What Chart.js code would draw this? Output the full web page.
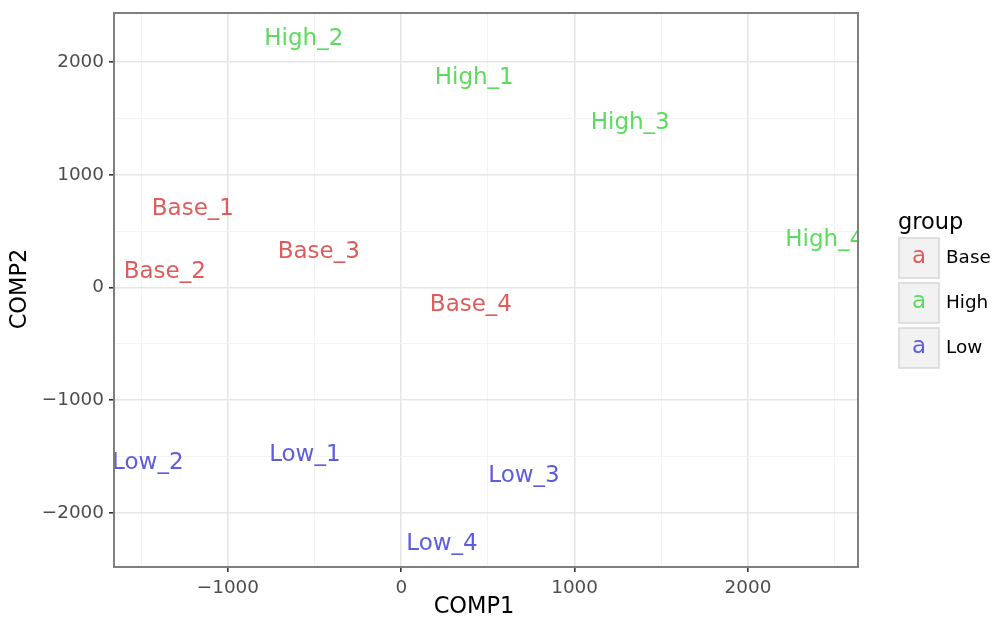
<!DOCTYPE html>
<html>
<head>
<meta charset="utf-8">
<script src="https://cdn.jsdelivr.net/npm/chart.js@4.4.1/dist/chart.umd.min.js"></script>
<style>
  html, body { margin: 0; padding: 0; background: #fff; }
  #wrap { width: 992px; height: 626px; position: relative; }
</style>
</head>
<body>
<div id="wrap"><canvas id="pca"></canvas></div>
<script>
// sample names and scores
const groups = ["Base", "High", "Low"];
const groupColors = ["#DE5C5C", "#5CDC5C", "#5C5CDE"];

const baseNames = ["Base_1", "Base_2", "Base_3", "Base_4"];
const baseComp1 = [-1202, -1364, -476, 402];
const baseComp2 = [714, 155, 333, -137];

const highNames = ["High_1", "High_2", "High_3", "High_4"];
const highComp1 = [421, -562, 1321, 2443];
const highComp2 = [1876, 2222, 1476, 439];

const lowNames = ["Low_1", "Low_2", "Low_3", "Low_4"];
const lowComp1 = [-556, -1462, 708, 235];
const lowComp2 = [-1468, -1539, -1654, -2257];

const xMajorTicks = [-1000, 0, 1000, 2000];
const xMinorTicks = [-1500, -500, 500, 1500, 2500];
const yMajorTicks = [-2000, -1000, 0, 1000, 2000];
const yMinorTicks = [-1500, -500, 500, 1500];

const FONT = "'DejaVu Sans', sans-serif";

function points(xs, ys, names) {
    return xs.map((x, i) => ({ x: x, y: ys[i], name: names[i] }));
}

function fmt(v) {
    return v < 0 ? "\u2212" + Math.abs(v) : String(v);
}

function gridOpts(major) {
    return {
        color: ctx => major.includes(ctx.tick && ctx.tick.value) ? "#e6e6e6" : "#f3f3f3",
        lineWidth: ctx => major.includes(ctx.tick && ctx.tick.value) ? 1.6 : 1,
        tickColor: ctx => major.includes(ctx.tick && ctx.tick.value) ? "#333333" : "rgba(0,0,0,0)",
        tickLength: 5,
        tickWidth: 1.6,
        drawTicks: true
    };
}

// text labels drawn at each point instead of markers
const textLabels = {
    id: "textLabels",
    afterDatasetsDraw(chart) {
        const { ctx, chartArea } = chart;
        ctx.save();
        ctx.beginPath();
        ctx.rect(chartArea.left, chartArea.top, chartArea.right - chartArea.left, chartArea.bottom - chartArea.top);
        ctx.clip();
        ctx.font = "23px " + FONT;
        ctx.textAlign = "center";
        ctx.textBaseline = "middle";
        chart.data.datasets.forEach((ds, di) => {
            const meta = chart.getDatasetMeta(di);
            meta.data.forEach((el, i) => {
                ctx.fillStyle = ds.textColor;
                ctx.fillText(ds.data[i].name, el.x, el.y + 2);
            });
        });
        ctx.restore();
    }
};

// panel border, axis titles and legend, ggplot style
const decorations = {
    id: "decorations",
    afterDraw(chart) {
        const { ctx, chartArea } = chart;
        ctx.save();
        ctx.strokeStyle = "#7f7f7f";
        ctx.lineWidth = 2;
        ctx.strokeRect(chartArea.left, chartArea.top, chartArea.right - chartArea.left, chartArea.bottom - chartArea.top);

        ctx.fillStyle = "#000";
        ctx.font = "22.5px " + FONT;
        ctx.textAlign = "center";
        ctx.textBaseline = "middle";
        ctx.fillText("COMP1", 474, 607);
        ctx.save();
        ctx.translate(20, 289);
        ctx.rotate(-Math.PI / 2);
        ctx.fillText("COMP2", 0, 0);
        ctx.restore();

        ctx.textAlign = "left";
        ctx.fillText("group", 898, 223);
        groups.forEach((g, i) => {
            const top = 238 + i * 45;
            ctx.fillStyle = "#f2f2f2";
            ctx.fillRect(899, top, 40, 40);
            ctx.strokeStyle = "#d6d6d6";
            ctx.lineWidth = 1.5;
            ctx.strokeRect(899, top, 40, 40);
            ctx.fillStyle = groupColors[i];
            ctx.font = "23px " + FONT;
            ctx.textAlign = "center";
            ctx.fillText("a", 919, top + 19);
            ctx.fillStyle = "#000";
            ctx.font = "18.4px " + FONT;
            ctx.textAlign = "left";
            ctx.fillText(g, 946, top + 20);
        });
        ctx.restore();
    }
};

const sets = [
    points(baseComp1, baseComp2, baseNames),
    points(highComp1, highComp2, highNames),
    points(lowComp1, lowComp2, lowNames)
];

new Chart(document.getElementById("pca"), {
    type: "scatter",
    data: {
        datasets: groups.map((g, i) => ({
            label: g,
            data: sets[i],
            textColor: groupColors[i],
            pointRadius: 0,
            pointHoverRadius: 0
        }))
    },
    options: {
        responsive: true,
        maintainAspectRatio: false,
        animation: false,
        events: [],
        layout: { padding: { left: 0, right: 134, top: 13, bottom: 0 } },
        plugins: { legend: { display: false }, tooltip: { enabled: false } },
        scales: {
            x: {
                type: "linear",
                min: -1657,
                max: 2635,
                afterBuildTicks: s => {
                    s.ticks = xMajorTicks.concat(xMinorTicks).sort((a, b) => a - b).map(v => ({ value: v }));
                },
                afterFit: s => { s.height = 59; s.paddingLeft = 0; s.paddingRight = 0; },
                ticks: {
                    autoSkip: false,
                    maxRotation: 0,
                    padding: 5,
                    color: "#4d4d4d",
                    font: { family: FONT, size: 18.4 },
                    callback: v => xMajorTicks.includes(v) ? fmt(v) : ""
                },
                grid: gridOpts(xMajorTicks),
                border: { display: false }
            },
            y: {
                type: "linear",
                min: -2479,
                max: 2435,
                afterBuildTicks: s => {
                    s.ticks = yMajorTicks.concat(yMinorTicks).sort((a, b) => a - b).map(v => ({ value: v }));
                },
                afterFit: s => { s.width = 114; s.paddingTop = 0; s.paddingBottom = 0; },
                ticks: {
                    autoSkip: false,
                    padding: 5,
                    color: "#4d4d4d",
                    font: { family: FONT, size: 18.4 },
                    callback: v => yMajorTicks.includes(v) ? fmt(v) : ""
                },
                grid: gridOpts(yMajorTicks),
                border: { display: false }
            }
        }
    },
    plugins: [textLabels, decorations]
});
</script>
</body>
</html>
